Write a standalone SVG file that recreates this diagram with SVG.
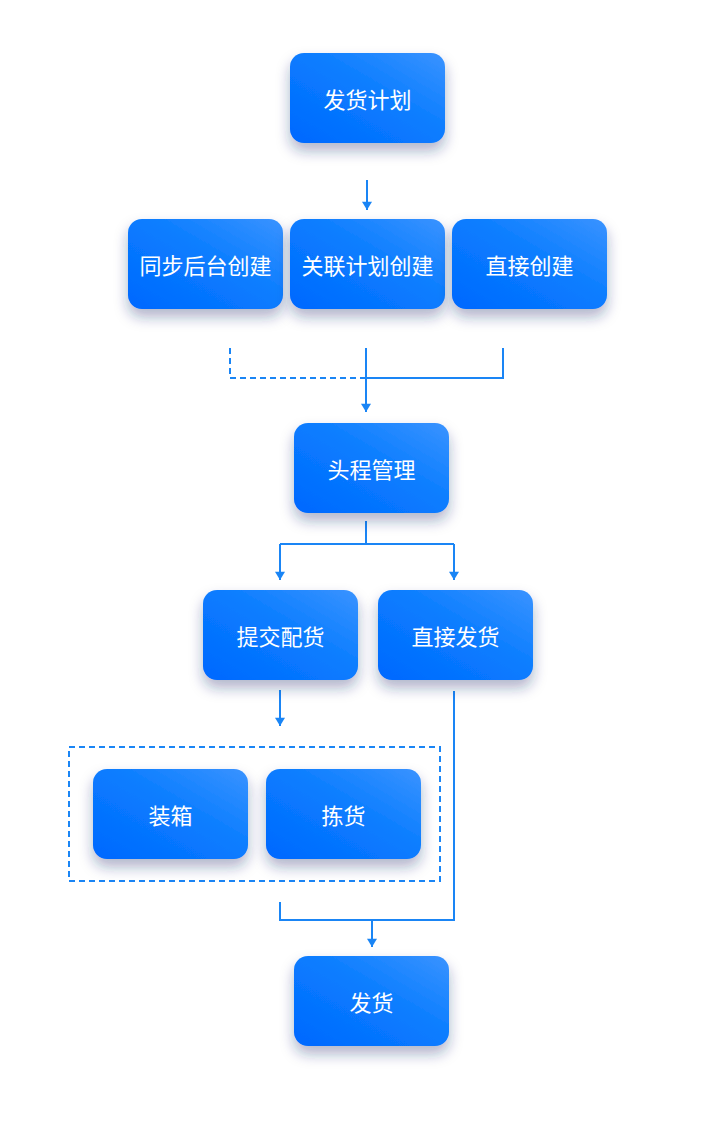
<svg xmlns="http://www.w3.org/2000/svg" width="720" height="1137" viewBox="0 0 720 1137">
<defs>
<linearGradient id="g" x1="0" y1="1" x2="1" y2="0">
<stop offset="0" stop-color="#0068ff"/><stop offset="0.55" stop-color="#0a7dff"/><stop offset="1" stop-color="#3a93ff"/>
</linearGradient>
<filter id="sh" x="-30%" y="-30%" width="160%" height="180%">
<feDropShadow dx="0" dy="8" stdDeviation="7" flood-color="#1a2a6a" flood-opacity="0.35"/>
</filter>
<marker id="ar" markerWidth="12" markerHeight="10" refX="6" refY="10" orient="auto" markerUnits="userSpaceOnUse" viewBox="0 0 12 10">
<path d="M0,0 L12,0 L6,10 Z" fill="#1a85f5" transform="rotate(-90 6 5) translate(0 0)"/>
</marker>
<marker id="a" markerWidth="12" markerHeight="10" refX="10" refY="6" orient="auto" markerUnits="userSpaceOnUse" viewBox="0 0 10 12">
<path d="M0,0 L10,6 L0,12 Z" fill="#1a85f5"/>
</marker>
</defs>
<style>
.n rect{fill:url(#g);filter:url(#sh)}
.n text{fill:#fff;font-family:"Noto Sans CJK SC","Noto Sans",sans-serif;font-size:22px;text-anchor:middle;dominant-baseline:central}
.c path{fill:none;stroke:#1a85f5;stroke-width:2}
.d{stroke-dasharray:6 4}
</style>
<rect width="720" height="1137" fill="#fff"/>
<g class="c">
<path d="M367,180 V210" marker-end="url(#a)"/>
<path class="d" d="M230,348 V378 H366"/>
<path d="M366,348 V412" marker-end="url(#a)"/>
<path d="M503,348 V378 H366"/>
<path d="M366,521 V544 M280,544 H454"/>
<path d="M280,544 V580" marker-end="url(#a)"/>
<path d="M454,544 V580" marker-end="url(#a)"/>
<path d="M280,690 V726" marker-end="url(#a)"/>
<path class="d" d="M69,747 H440 V881 H69 Z"/>
<path d="M280,902 V920 H454 V691"/>
<path d="M372,920 V947" marker-end="url(#a)"/>
</g>
<g id="n1" class="n"><rect x="290" y="53" width="155" height="90" rx="14"/><text x="367.5" y="98">发货计划</text></g>
<g id="n2" class="n"><rect x="128" y="219" width="155" height="90" rx="14"/><text x="205.5" y="264">同步后台创建</text></g>
<g id="n3" class="n"><rect x="290" y="219" width="155" height="90" rx="14"/><text x="367.5" y="264">关联计划创建</text></g>
<g id="n4" class="n"><rect x="452" y="219" width="155" height="90" rx="14"/><text x="529.5" y="264">直接创建</text></g>
<g id="n5" class="n"><rect x="294" y="423" width="155" height="90" rx="14"/><text x="371.5" y="468">头程管理</text></g>
<g id="n6" class="n"><rect x="203" y="590" width="155" height="90" rx="14"/><text x="280.5" y="635">提交配货</text></g>
<g id="n7" class="n"><rect x="378" y="590" width="155" height="90" rx="14"/><text x="455.5" y="635">直接发货</text></g>
<g id="n8" class="n"><rect x="93" y="769" width="155" height="90" rx="14"/><text x="170.5" y="814">装箱</text></g>
<g id="n9" class="n"><rect x="266" y="769" width="155" height="90" rx="14"/><text x="343.5" y="814">拣货</text></g>
<g id="n10" class="n"><rect x="294" y="956" width="155" height="90" rx="14"/><text x="371.5" y="1001">发货</text></g>
</svg>
